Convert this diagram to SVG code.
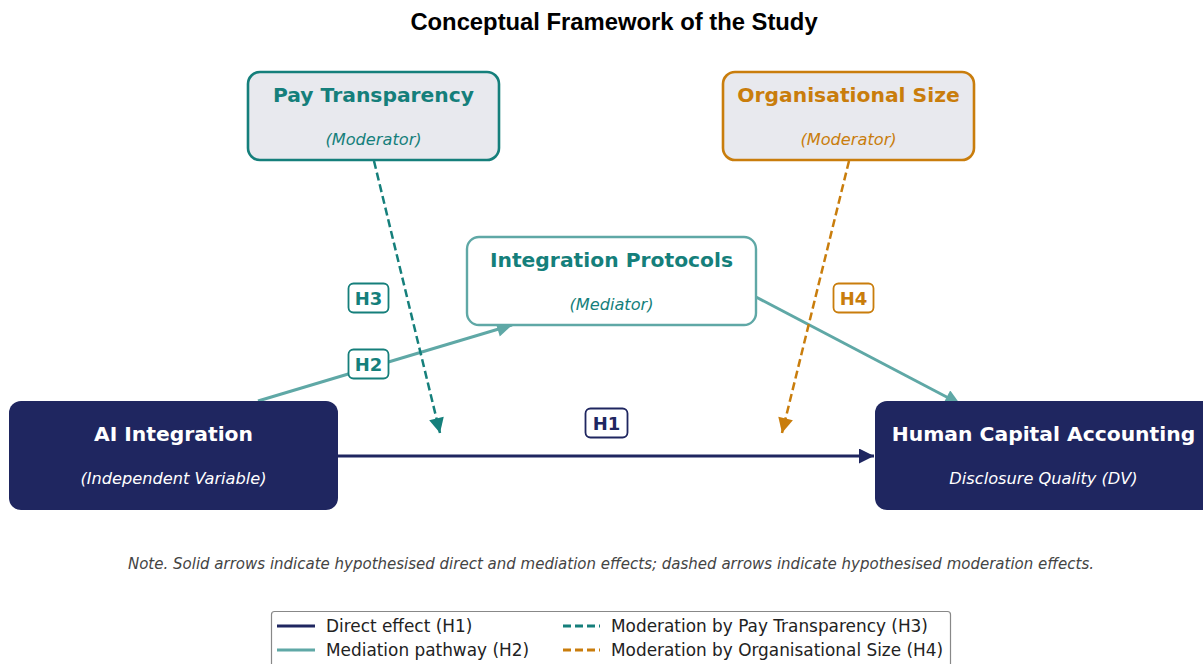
<svg xmlns="http://www.w3.org/2000/svg" width="1203" height="664" viewBox="0 0 1203 664">
  <defs>
    <marker id="ah-navy" viewBox="0 0 10 10" refX="10" refY="5" markerUnits="userSpaceOnUse" markerWidth="16" markerHeight="15" orient="auto">
      <path d="M0,0 L10,5 L0,10 Z" fill="#1f2660"/>
    </marker>
    <marker id="ah-med" viewBox="0 0 10 10" refX="10" refY="5" markerUnits="userSpaceOnUse" markerWidth="16" markerHeight="15" orient="auto">
      <path d="M0,0 L10,5 L0,10 Z" fill="#5fa8a6"/>
    </marker>
    <marker id="ah-teal" viewBox="0 0 10 10" refX="10" refY="5" markerUnits="userSpaceOnUse" markerWidth="16" markerHeight="15" orient="auto">
      <path d="M0,0 L10,5 L0,10 Z" fill="#157f7b"/>
    </marker>
    <marker id="ah-orange" viewBox="0 0 10 10" refX="10" refY="5" markerUnits="userSpaceOnUse" markerWidth="16" markerHeight="15" orient="auto">
      <path d="M0,0 L10,5 L0,10 Z" fill="#c97d0c"/>
    </marker>
  </defs>
  <style>
    text { font-family: "DejaVu Sans", "Noto Sans", sans-serif; text-anchor: middle; }
    .title { font-family: "Liberation Sans", Arial, sans-serif; font-weight: bold; font-size: 23.8px; fill: #000; }
    .head { font-weight: bold; font-size: 20.3px; }
    .sub { font-style: italic; font-size: 16.2px; }
    .teal { fill: #157f7b; }
    .orange { fill: #c97d0c; }
    .white { fill: #ffffff; }
    .navy { fill: #1f2660; }
    .mod { fill: #e8e9ee; stroke-width: 2.6; }
    .hbox { fill: #ffffff; stroke-width: 1.8; }
    .hlab { font-weight: bold; font-size: 18px; }
    .note { font-style: italic; font-size: 15px; fill: #444444; }
    .leg { font-size: 16.9px; fill: #222222; text-anchor: start; }
  </style>

  <rect width="1203" height="664" fill="#ffffff"/>

  <text class="title" x="614" y="30">Conceptual Framework of the Study</text>

  <!-- connectors -->
  <g id="connectors" fill="none">
    <line x1="338" y1="456" x2="874" y2="456" stroke="#1f2660" stroke-width="3" marker-end="url(#ah-navy)"/>
    <line x1="258" y1="401" x2="512" y2="325" stroke="#5fa8a6" stroke-width="3" marker-end="url(#ah-med)"/>
    <line x1="756" y1="297" x2="960" y2="404" stroke="#5fa8a6" stroke-width="3" marker-end="url(#ah-med)"/>
    <line x1="374" y1="161" x2="440" y2="433" stroke="#157f7b" stroke-width="2.5" stroke-dasharray="8,4" marker-end="url(#ah-teal)"/>
    <line x1="849" y1="161" x2="782" y2="433" stroke="#c97d0c" stroke-width="2.5" stroke-dasharray="8,4" marker-end="url(#ah-orange)"/>
  </g>

  <!-- hypothesis labels -->
  <g id="label-h3">
    <rect class="hbox" x="348.5" y="283.5" width="40" height="29" rx="5" stroke="#157f7b"/>
    <text class="hlab teal" x="368.5" y="304.5">H3</text>
  </g>
  <g id="label-h2">
    <rect class="hbox" x="348.5" y="349.5" width="40" height="29" rx="5" stroke="#157f7b"/>
    <text class="hlab teal" x="368.5" y="370.5">H2</text>
  </g>
  <g id="label-h1">
    <rect class="hbox" x="585.5" y="408.5" width="42" height="29" rx="5" stroke="#1f2660"/>
    <text class="hlab navy" x="606.5" y="429.5">H1</text>
  </g>
  <g id="label-h4">
    <rect class="hbox" x="833.5" y="283.5" width="40" height="29" rx="5" stroke="#c97d0c"/>
    <text class="hlab orange" x="853.5" y="304.5">H4</text>
  </g>

  <!-- nodes -->
  <g id="node-pay-transparency">
    <rect class="mod" x="248" y="72" width="251" height="88" rx="12" stroke="#157f7b"/>
    <text class="head teal" x="373.5" y="102">Pay Transparency</text>
    <text class="sub teal" x="373.5" y="145">(Moderator)</text>
  </g>
  <g id="node-organisational-size">
    <rect class="mod" x="723" y="72" width="251" height="88" rx="12" stroke="#c97d0c"/>
    <text class="head orange" x="848.5" y="102">Organisational Size</text>
    <text class="sub orange" x="848.5" y="145">(Moderator)</text>
  </g>
  <g id="node-integration-protocols">
    <rect x="467" y="237" width="289" height="88" rx="12" fill="#ffffff" stroke="#5fa8a6" stroke-width="2.4"/>
    <text class="head teal" x="611.5" y="267">Integration Protocols</text>
    <text class="sub teal" x="611.5" y="310">(Mediator)</text>
  </g>
  <g id="node-ai-integration">
    <rect x="9" y="401" width="329" height="109" rx="12" fill="#1f2660"/>
    <text class="head white" x="173.5" y="441">AI Integration</text>
    <text class="sub white" x="173.5" y="484">(Independent Variable)</text>
  </g>
  <g id="node-human-capital">
    <rect x="875" y="401" width="340" height="109" rx="12" fill="#1f2660"/>
    <text class="head white" x="1043.5" y="441">Human Capital Accounting</text>
    <text class="sub white" x="1043.5" y="484">Disclosure Quality (DV)</text>
  </g>

  <text class="note" x="611" y="569">Note. Solid arrows indicate hypothesised direct and mediation effects; dashed arrows indicate hypothesised moderation effects.</text>

  <!-- legend -->
  <g id="legend">
    <rect x="271.5" y="611.5" width="679" height="60" rx="3" fill="#ffffff" stroke="#888888" stroke-width="1.2"/>
    <line x1="277" y1="626" x2="315" y2="626" stroke="#1f2660" stroke-width="3"/>
    <text class="leg" x="326" y="632">Direct effect (H1)</text>
    <line x1="277" y1="650" x2="315" y2="650" stroke="#5fa8a6" stroke-width="3"/>
    <text class="leg" x="326" y="656">Mediation pathway (H2)</text>
    <line x1="563" y1="626" x2="600" y2="626" stroke="#157f7b" stroke-width="3" stroke-dasharray="8,4"/>
    <text class="leg" x="611" y="632">Moderation by Pay Transparency (H3)</text>
    <line x1="563" y1="650" x2="600" y2="650" stroke="#c97d0c" stroke-width="3" stroke-dasharray="8,4"/>
    <text class="leg" x="611" y="656">Moderation by Organisational Size (H4)</text>
  </g>
</svg>
